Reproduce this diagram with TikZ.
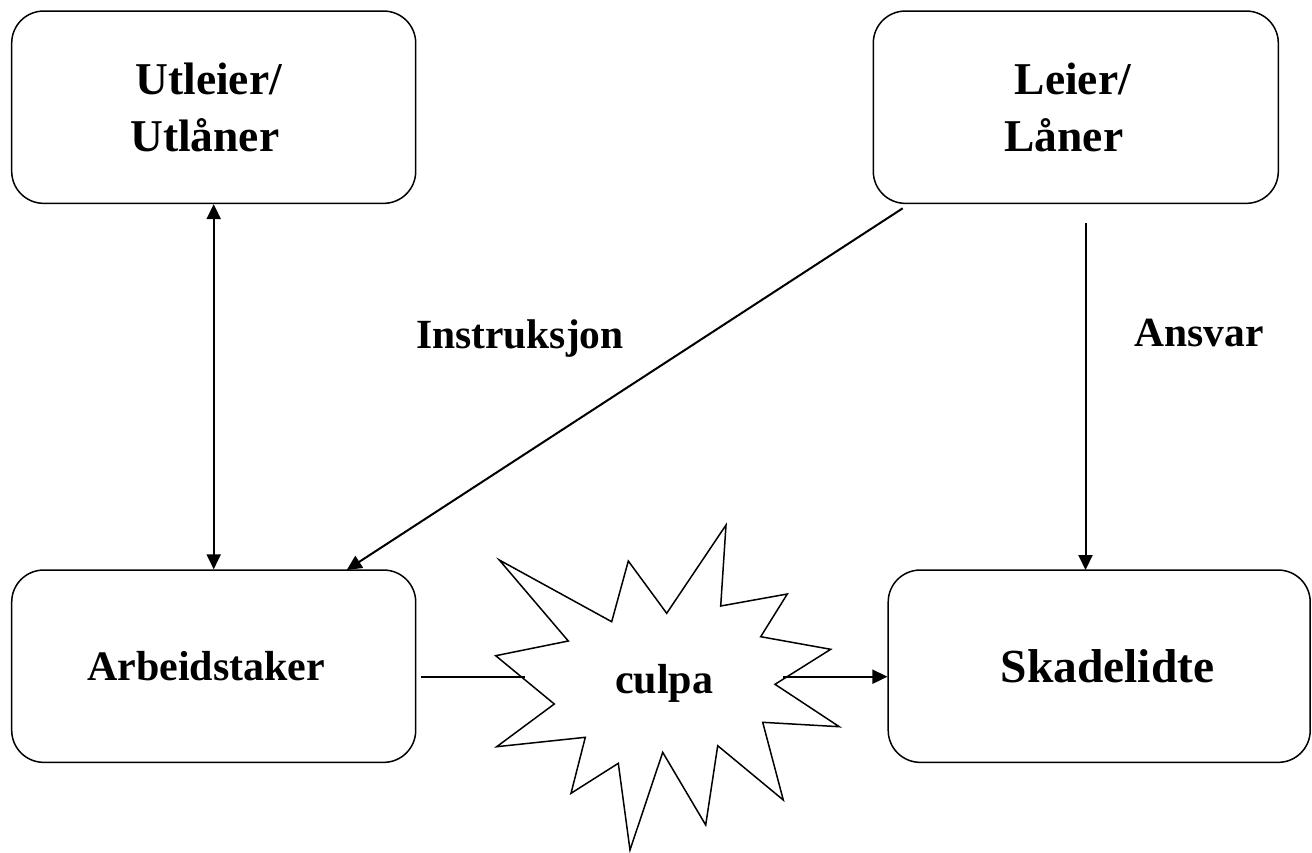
\documentclass[tikz,border=0pt]{standalone}
\usepackage{fontspec}
\setmainfont{Liberation Serif}
\usetikzlibrary{arrows.meta}
\tikzset{
  box/.style={draw=black, line width=1.5pt, rounded corners=32pt, align=center, inner sep=0pt},
  bigtxt/.style={font=\fontsize{45.5}{56.7}\selectfont\bfseries},
  skatxt/.style={font=\fontsize{47.5}{56.7}\selectfont\bfseries},
  midtxt/.style={font=\fontsize{42}{50}\selectfont\bfseries},
  lbl/.style={font=\fontsize{41.5}{50}\selectfont\bfseries, anchor=base, inner sep=0pt},
  conn/.style={line width=2pt},
  tip/.style={-{Triangle[length=15pt,width=14pt]}},
  startxt/.style={font=\fontsize{42}{50}\selectfont\bfseries, anchor=base, inner sep=0pt}
}
\begin{document}
\begin{tikzpicture}[x=1pt,y=-1pt]
\useasboundingbox (0,0) rectangle (1312,852);

% boxes
\node[box, bigtxt, minimum width=404pt, minimum height=192.3pt] (utl) at (213.7,107.2) {Utleier/\hspace*{10pt}\\Utlåner\hspace*{18pt}};
\node[box, bigtxt, minimum width=405pt, minimum height=192.3pt] (lei) at (1075.8,107.2) {Leier/\hspace*{6pt}\\Låner\hspace*{24pt}};
\node[box, midtxt, minimum width=404pt, minimum height=192.3pt] (arb) at (213.7,666.2) {Arbeidstaker\hspace*{15pt}};
\node[box, skatxt, minimum width=422pt, minimum height=192.3pt] (ska) at (1099.2,666.2) {\hspace*{16.6pt}Skadelidte};

% starburst
\draw[line width=1.5pt, fill=white, line join=miter]
 (499.3,560) -- (611.7,621.7) -- (628.3,561) -- (666.7,613.3) -- (726,525) -- (720.7,606)
 -- (787.3,594) -- (760.7,636.7) -- (830.7,649.3) -- (775,684.3) -- (839.3,726.7) -- (762.7,722.3)
 -- (783.3,800) -- (717.7,745.7) -- (705.7,825) -- (662.7,752.3) -- (630,850) -- (618.3,763.3)
 -- (571,793.3) -- (585.3,737.3) -- (496.7,746.7) -- (554.3,704) -- (495.7,655.7) -- (568.3,641) -- cycle;
\node[startxt] (culpa) at (664.2,693.3) {culpa};

% labels
\node[lbl] (instr) at (520,348.3) {Instruksjon};
\node[lbl] (ansvar) at (1199.2,346.7) {Ansvar};

% connector points
\coordinate (iStart) at (902.7,208.3);
\coordinate (iEnd) at (346.7,570);
\coordinate (aStart) at (1085.5,223.3);
\coordinate (aEnd) at (1085.5,570);
\coordinate (lEnd) at (525,676.7);
\coordinate (rStart) at (783.3,676.7);

% connectors
\draw[conn, {Triangle[length=15pt,width=14pt]}-{Triangle[length=15pt,width=14pt]}] (utl.south) -- (arb.north);
\draw[conn, tip] (iStart) -- (iEnd);
\draw[conn, tip] (aStart) -- (aEnd);
\draw[conn] (arb.east |- lEnd) ++(4.5,0) coordinate (lStart) -- (lEnd);
\draw[conn, tip] (rStart) -- (ska.west |- rStart);
\end{tikzpicture}
\end{document}
